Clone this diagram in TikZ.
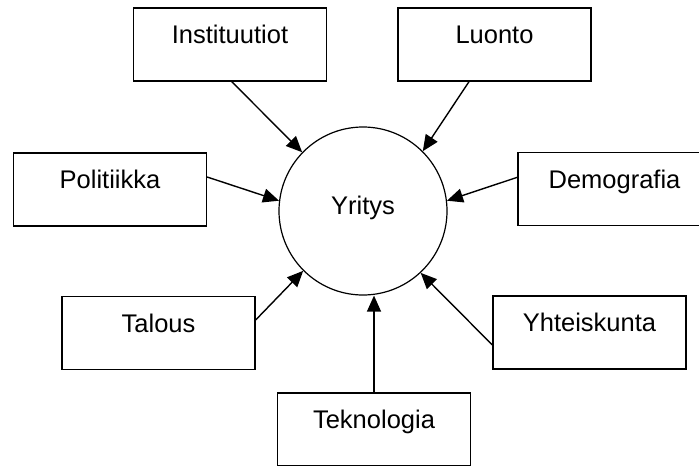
\documentclass[tikz,border=0pt]{standalone}
\usepackage{fontspec}
\setmainfont{Liberation Sans}
\usetikzlibrary{arrows.meta}
\begin{document}
\begin{tikzpicture}[x=1pt,y=-1pt,
  every node/.style={font=\fontsize{25.5}{30}\selectfont},
  factor/.style={draw, line width=1.3pt, rectangle, inner sep=0pt,
    minimum width=193pt, minimum height=73pt,
    text height=35.6pt, text depth=37.4pt},
  firm/.style={draw, line width=1.2pt, circle, inner sep=0pt,
    minimum size=168pt, text height=12pt, text depth=5pt},
  influence/.style={line width=1.4pt, -{Triangle[length=16pt,width=14pt]}}]
\useasboundingbox (0,0) rectangle (699,466);
% central firm
\node[firm] (yritys) at (363,211) {Yritys};
% surrounding environment factors
\node[factor] (inst)   at (230,44.5)   {Instituutiot};
\node[factor] (luonto) at (494.5,44.5) {Luonto};
\node[factor] (pol)    at (110,189.5)  {Politiikka};
\node[factor] (demo)   at (614.5,189)  {Demografia};
\node[factor] (talous) at (158.5,333)  {Talous};
\node[factor] (yht)    at (589.5,332.5){Yhteiskunta};
\node[factor] (tek)    at (374,429.5)  {Teknologia};
% influences on the firm
\draw[influence] ([xshift=1.7pt]inst.south) -- (yritys.136.6);
\draw[influence] ([xshift=-25.5pt]luonto.south) -- (yritys.45.3);
\draw[influence] ([yshift=12.5pt]pol.east) -- (yritys.173.8);
\draw[influence] ([yshift=11.7pt]demo.west) -- (yritys.7.5);
\draw[influence] ([yshift=13pt]talous.east) -- (yritys.225.5);
\draw[influence] ([yshift=-12.5pt]yht.west) -- (yritys.313.8);
\draw[influence] (tek.north) -- (tek.north |- yritys.south);
\end{tikzpicture}
\end{document}
